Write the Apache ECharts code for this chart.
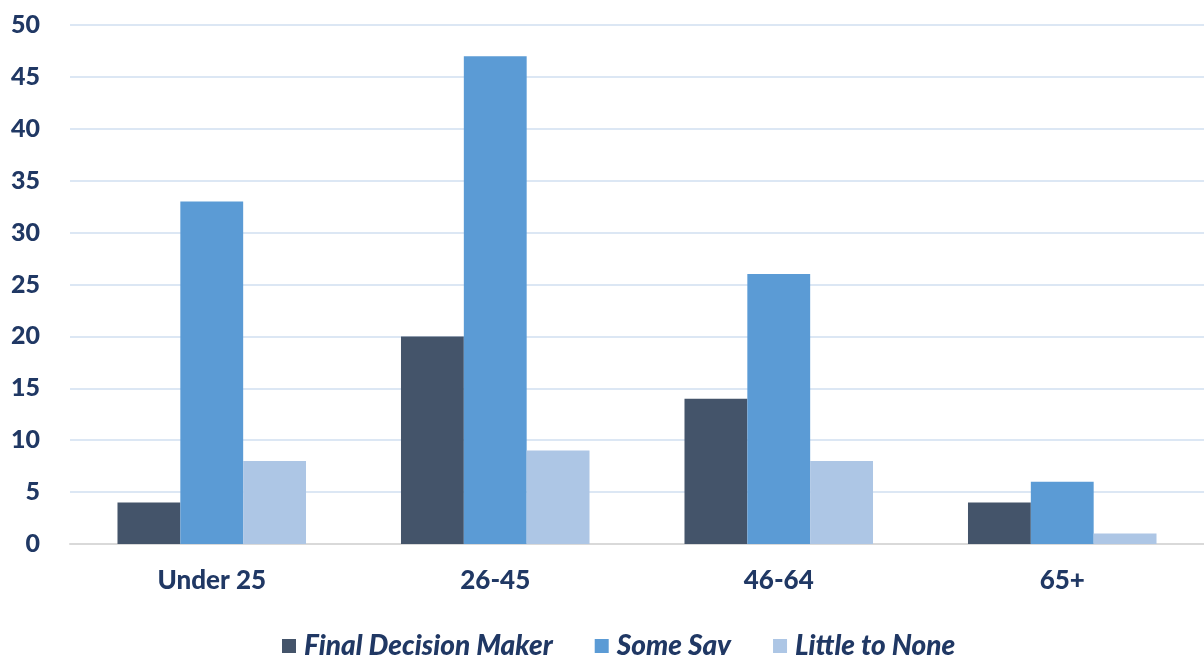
<!DOCTYPE html>
<html><head><meta charset="utf-8">
<script src="https://cdn.jsdelivr.net/npm/echarts@6/dist/echarts.min.js"></script>
<style>html,body{margin:0;padding:0;background:#fff}#c{width:1204px;height:655px}</style>
</head><body><div id="c"></div>
<script>
const categories = ['Under 25', '26-45', '46-64', '65+'];
const finalDecision = [4, 20, 14, 4];
const someSay = [33, 47, 26, 6];
const littleNone = [8, 9, 8, 1];
const yTicks = { min: 0, max: 50, interval: 5 };

const txt = '#203864';
const font = 'Lato';
const chart = echarts.init(document.getElementById('c'));
chart.setOption({
  animation: false,
  grid: { left: 70, right: 0, top: 25, bottom: 111, containLabel: false },
  legend: {
    top: 627, left: 277, itemWidth: 14, itemHeight: 14, itemGap: 42,
    icon: 'rect',
    textStyle: { color: txt, fontFamily: font, fontWeight: 900, fontStyle: 'italic', fontSize: 28, padding: [0, 0, 0, 3] }
  },
  xAxis: {
    type: 'category', data: categories,
    axisLine: { lineStyle: { color: '#D9D9D9', width: 2 } },
    axisTick: { show: false },
    axisLabel: { color: txt, fontFamily: font, fontWeight: 900, fontSize: 26, margin: 24 }
  },
  yAxis: {
    type: 'value', min: yTicks.min, max: yTicks.max, interval: yTicks.interval,
    axisLine: { show: false }, axisTick: { show: false },
    splitLine: { lineStyle: { color: '#DCE7F4', width: 2 } },
    axisLabel: { color: txt, fontFamily: font, fontWeight: 900, fontSize: 25, margin: 30 }
  },
  series: [
    { name: 'Final Decision Maker', type: 'bar', data: finalDecision, barGap: '0%', barCategoryGap: '33.5%', itemStyle: { color: '#44546A' } },
    { name: 'Some Say', type: 'bar', data: someSay, itemStyle: { color: '#5B9BD5' } },
    { name: 'Little to None', type: 'bar', data: littleNone, itemStyle: { color: '#ADC6E5' } }
  ]
});
</script></body></html>
